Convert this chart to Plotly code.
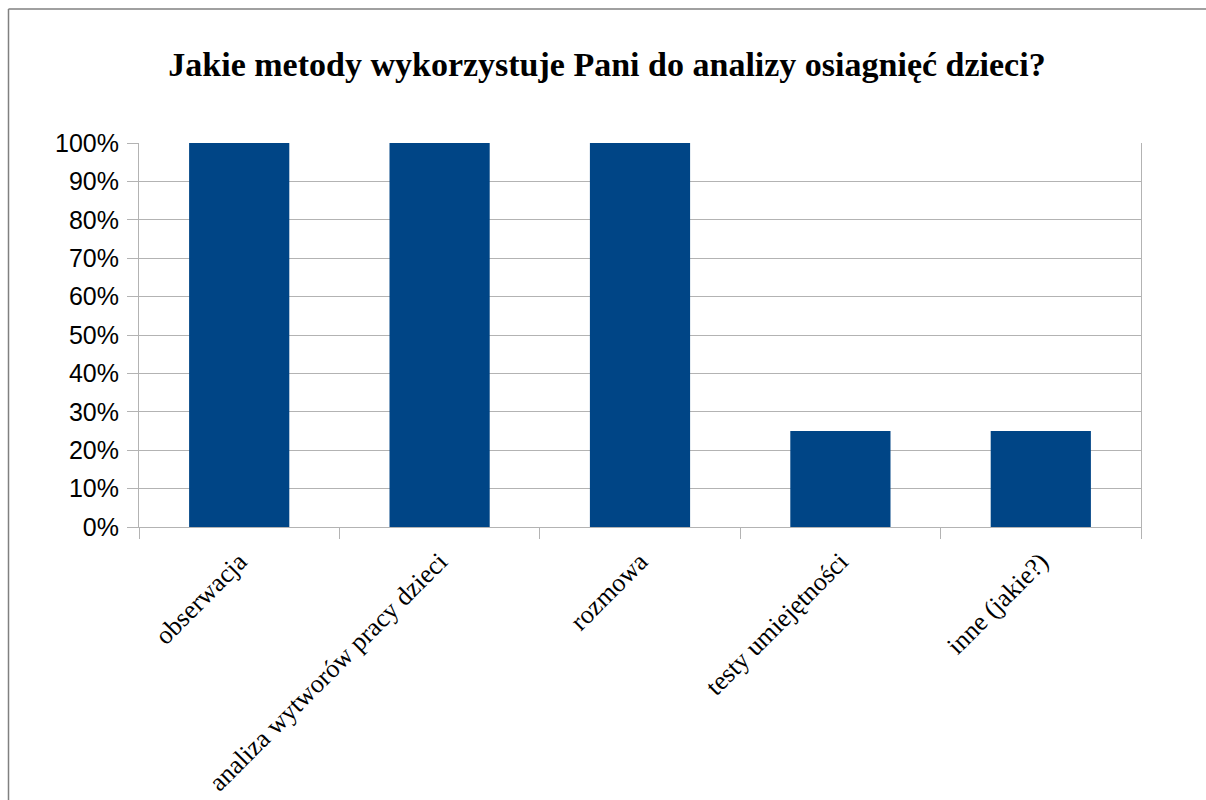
import plotly.graph_objects as go

categories = ["obserwacja", "analiza wytworów pracy dzieci", "rozmowa",
              "testy umiejętności", "inne (jakie?)"]
values = [1.0, 1.0, 1.0, 0.25, 0.25]
y_ticks = [0, 0.1, 0.2, 0.3, 0.4, 0.5, 0.6, 0.7, 0.8, 0.9, 1.0]
y_tick_labels = ["0%", "10%", "20%", "30%", "40%", "50%", "60%", "70%", "80%", "90%", "100%"]
title_text = "Jakie metody wykorzystuje Pani do analizy osiagnięć dzieci?"

W, H = 1206, 800
L, R, T, B = 139, 65, 143, 273
pw, ph = W - L - R, H - T - B

fig = go.Figure()
fig.add_trace(go.Bar(x=categories, y=values, marker=dict(color="#004586", line=dict(width=0)),
                     width=0.5))

grid = "#b3b3b3"
fig.update_layout(
    width=W, height=H,
    margin=dict(l=L, r=R, t=T, b=B, autoexpand=False),
    paper_bgcolor="white", plot_bgcolor="white",
    showlegend=False,
    title=dict(text="<b>" + title_text + "</b>", x=(607 - L) / pw, xref="paper", xanchor="center",
               y=1 - 64 / H, yanchor="middle",
               font=dict(family="Liberation Serif", size=34, color="black")),
    xaxis=dict(type="category", tickson="boundaries", ticks="outside", ticklen=11,
               tickcolor=grid, tickwidth=1, showline=True, linecolor=grid, linewidth=1,
               showgrid=False, tickangle=-45, ticklabelstandoff=8,
               tickfont=dict(family="Liberation Serif", size=26, color="black")),
    yaxis=dict(range=[0, 1], tickvals=y_ticks, ticktext=y_tick_labels, ticks="outside",
               ticklen=11, tickcolor=grid, tickwidth=1, showline=True, mirror=True,
               linecolor=grid, linewidth=1, showgrid=True, gridcolor=grid, gridwidth=1,
               zeroline=False, ticklabelstandoff=3,
               tickfont=dict(family="Liberation Sans", size=25, color="black")),
    bargap=0.5,
)

# outer frame (left and top edges of the original chart border)
bx0 = (8.5 - L) / pw
by_top = 1 + (T - 9) / ph
by_bot = -(H - (T + ph)) / ph
bx1 = (W - L) / pw
fig.add_shape(type="line", xref="paper", yref="paper", x0=bx0, x1=bx0, y0=by_top, y1=by_bot,
              line=dict(color="#808080", width=1.5))
fig.add_shape(type="line", xref="paper", yref="paper", x0=bx0, x1=bx1, y0=by_top, y1=by_top,
              line=dict(color="#808080", width=1.5))

fig.write_html("out.html", config={"displayModeBar": False},
               post_script="document.body.style.margin='0';document.body.style.overflow='hidden';")
